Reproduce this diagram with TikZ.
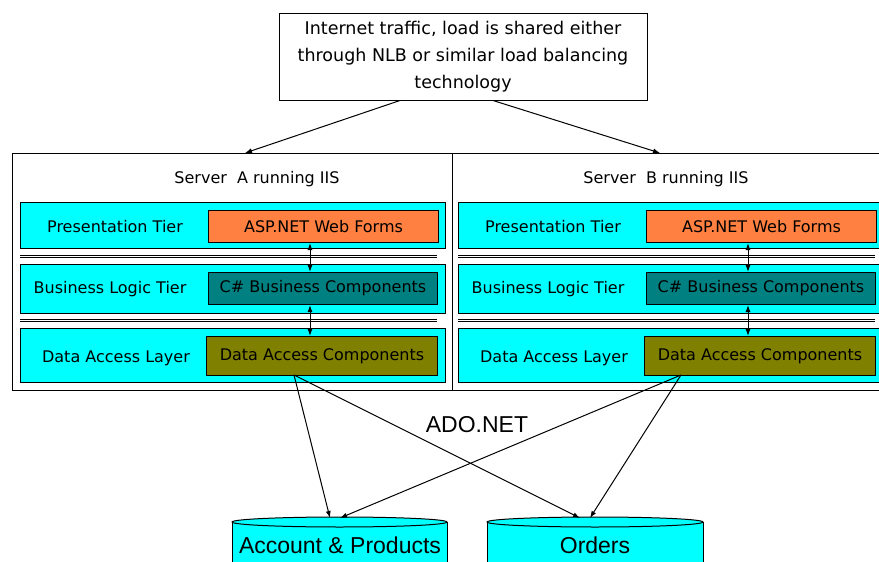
\documentclass[tikz,border=0pt]{standalone}
\usepackage{fontspec}
\setmainfont{DejaVu Sans}
\newfontfamily\arialf{Liberation Sans}
\usetikzlibrary{arrows.meta}
\definecolor{bandcyan}{RGB}{0,255,255}
\definecolor{aspor}{RGB}{255,128,64}
\definecolor{bizteal}{RGB}{0,128,128}
\definecolor{daolive}{RGB}{128,128,0}
\begin{document}
\begin{tikzpicture}[x=1pt,y=-1pt,line width=1pt,
  >={Latex[length=7pt,width=5pt]},
  plain/.style={font=\fontsize{16}{19}\selectfont, inner sep=0pt},
  bigtxt/.style={font=\arialf\fontsize{23}{26}\selectfont, inner sep=0pt},
  band/.style={draw, fill=bandcyan, anchor=north west, inner sep=0pt, minimum width=425pt},
  comp/.style={draw, anchor=north west, inner sep=0pt, minimum width=230pt},
  frame/.style={draw, anchor=north west, inner sep=0pt, minimum width=440pt, minimum height=237pt},
  sep/.style={draw, line width=0.8pt}
]
\useasboundingbox (0,0) rectangle (879,562);
\clip (0,0) rectangle (879,562);

% top box
\node[draw, minimum width=368pt, minimum height=87pt, inner sep=0pt,
      align=center, font=\fontsize{17.5}{27}\selectfont] (top) at (463,56.5)
  {Internet traffic, load is shared either\\through NLB or similar load balancing\\technology};

\node[frame] (frameA) at (12,153) {};
\node[frame] (frameB) at (452,153) {};

\foreach \s/\dx in {A/0, B/438} {
  \begin{scope}[xshift=\dx pt]
    \node[band, minimum height=46pt] (band1\s) at (20,202) {};
    \node[band, minimum height=49pt] (band2\s) at (20,264) {};
    \node[band, minimum height=54pt] (band3\s) at (20,328) {};
    \draw[sep] (20,255) -- (437,255);
    \draw[sep] (20,257.5) -- (437,257.5);
    \draw[sep] (20,319) -- (437,319);
    \draw[sep] (20,321.5) -- (437,321.5);
    \node[comp, fill=aspor, minimum height=32pt] (asp\s) at (208,210) {};
    \node[comp, fill=bizteal, minimum height=32pt, minimum width=229pt] (biz\s) at (208,272) {};
    \node[comp, fill=daolive, minimum height=39pt, minimum width=231pt] (da\s) at (206,336) {};
    \node[plain] (pl\s) at (115,227) {Presentation Tier};
    \node[plain] (bl\s) at (110,289) {Business Logic Tier};
    \node[plain] (dl\s) at (116,358) {Data Access Layer};
    \node[plain] (aspt\s) at (asp\s.center) {ASP.NET Web Forms};
    \node[plain] (bizt\s) at (biz\s.center) {C\# Business Components};
    \node[plain] (dat\s) at (da\s.center) {Data Access Components};
    \draw[<->] (asp\s.south -| 310,0) -- (biz\s.north -| 310,0);
    \draw[<->] (biz\s.south -| 310,0) -- (da\s.north -| 310,0);
  \end{scope}
}
\node[plain] (titleA) at (257,179) {Server\ \ A running IIS};
\node[plain] (titleB) at (666,179) {Server\ \ B running IIS};

% arrows from top box
\coordinate (inA) at (245,153);
\coordinate (inB) at (660,153);
\draw[->] (top.south -| 400,0) -- (inA);
\draw[->] (top.south -| 493,0) -- (inB);

% databases
\filldraw[fill=bandcyan] (232,522) rectangle (447,580);
\filldraw[fill=bandcyan] (339.5,522) ellipse (107.5pt and 5pt);
\filldraw[fill=bandcyan] (487,522) rectangle (703,580);
\filldraw[fill=bandcyan] (595,522) ellipse (108pt and 5pt);
\node[bigtxt] (acc) at (340,545) {Account \& Products};
\node[bigtxt] (ord) at (595,545) {Orders};

\coordinate (accL) at (330,518);
\coordinate (accR) at (340,518);
\coordinate (ordL) at (580,518);
\coordinate (ordR) at (590,518);
\coordinate (outA) at (294,375);
\coordinate (outB) at (681,375);
\draw[->] (outA) -- (accL);
\draw[->] (outA) -- (ordL);
\draw[->] (outB) -- (accR);
\draw[->] (outB) -- (ordR);
\node[bigtxt] (ado) at (477,425) {ADO.NET};
\end{tikzpicture}
\end{document}
